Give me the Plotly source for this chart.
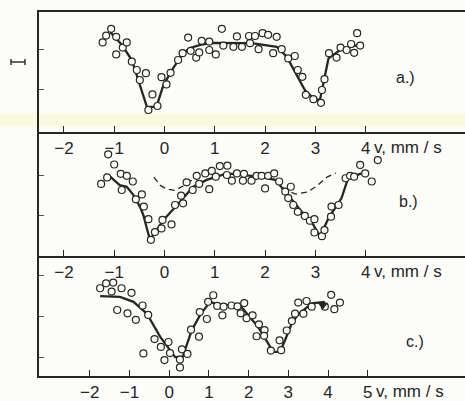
import plotly.graph_objects as go

# ---- spectrum a: velocity (mm/s) and relative intensity ----
a_v = [-1.23, -1.16, -1.06, -0.96, -0.96, -0.83, -0.75, -0.65, -0.55, -0.49, -0.37,
       -0.24, -0.32, -0.14, -0.06, 0.04, 0.12, 0.27, 0.36, 0.47, 0.52, 0.63, 0.69,
       0.74, 0.89, 0.89, 1.02, 1.14, 1.17, 1.37, 1.44, 1.54, 1.68, 1.70, 1.80, 1.87,
       1.95, 2.06, 2.16, 2.23, 2.33, 2.46, 2.59, 2.65, 2.74, 2.81, 2.96, 3.11, 3.13,
       3.18, 3.27, 3.42, 3.50, 3.62, 3.71, 3.77, 3.83, 3.89]
a_i = [2.19, 2.36, 2.53, 2.33, 1.89, 2.06, 2.19, 1.71, 1.50, 1.25, 1.42,
       0.89, 0.50, 0.60, 1.32, 1.14, 1.43, 1.75, 1.92, 2.31, 1.98, 1.81, 1.94,
       2.23, 2.21, 2.00, 1.89, 2.53, 2.11, 2.08, 2.34, 2.08, 2.35, 2.17, 2.35, 2.02,
       2.42, 2.38, 1.92, 2.33, 2.02, 1.79, 1.85, 1.50, 1.33, 0.88, 0.77, 0.68, 1.00,
       1.27, 1.92, 1.81, 2.06, 2.00, 2.15, 1.93, 2.42, 2.11]
a_fit_v = [-1.08, -0.85, -0.65, -0.35, -0.16, -0.02, 0.17, 0.37, 0.51, 0.71, 0.96,
           1.73, 2.23, 2.43, 2.79, 2.96, 3.09, 3.26, 3.49, 3.85]
a_fit_i = [2.45, 2.13, 1.75, 0.58, 0.58, 1.13, 1.54, 1.92, 2.05, 2.13, 2.18,
           2.17, 2.08, 1.83, 1.00, 0.79, 0.75, 1.79, 2.00, 2.13]

# ---- spectrum b ----
b_v = [-1.26, -1.14, -1.12, -1.00, -0.87, -0.85, -0.75, -0.63, -0.57, -0.45, -0.41,
       -0.32, -0.27, -0.19, -0.06, -0.04, 0.14, 0.21, 0.37, 0.33, 0.44, 0.56, 0.64,
       0.69, 0.81, 0.89, 0.94, 1.02, 1.10, 1.25, 1.24, 1.34, 1.44, 1.56, 1.58, 1.73,
       1.83, 1.93, 2.00, 2.06, 2.18, 2.28, 2.40, 2.51, 2.46, 2.56, 2.65, 2.79, 2.89,
       2.98, 2.98, 3.13, 3.18, 3.31, 3.32, 3.46, 3.60, 3.69, 3.77, 3.89, 3.99, 4.12,
       4.24]
b_i = [1.78, 1.94, 2.51, 2.26, 2.03, 1.63, 1.98, 1.84, 1.40, 1.52, 1.22,
       0.91, 0.40, 0.59, 0.68, 0.89, 0.78, 1.26, 1.30, 1.49, 1.82, 1.63, 1.98,
       1.78, 2.04, 1.65, 2.10, 1.96, 2.22, 2.23, 2.00, 1.86, 2.04, 1.86, 2.03, 1.86,
       1.98, 1.98, 1.67, 1.98, 2.04, 1.84, 1.59, 1.71, 1.43, 1.26, 1.09, 0.99, 0.87,
       0.91, 0.58, 0.49, 0.64, 0.97, 1.22, 1.26, 1.92, 1.98, 1.96, 2.25, 2.04, 1.84,
       2.37]
b_fit_v = [-1.08, -0.89, -0.75, -0.62, -0.49, -0.42, -0.29, -0.02, 0.31, 0.57, 0.84,
           1.24, 1.87, 2.20, 2.43, 2.73, 2.96, 3.09, 3.26, 3.52, 3.65, 3.92]
b_fit_i = [1.96, 1.75, 1.71, 1.51, 1.22, 1.01, 0.40, 0.89, 1.34, 1.71, 1.88,
           2.04, 1.96, 1.88, 1.55, 1.09, 0.77, 0.48, 0.93, 1.43, 1.92, 2.04]
# single-line fit, shown dashed where it departs from the doublet fit
b_single_v = [-0.21, -0.09, 0.05, 0.21, 0.37, 0.51, 0.71, None,
              2.20, 2.40, 2.61, 2.85, 3.05, 3.23, 3.41]
b_single_i = [1.95, 1.75, 1.65, 1.62, 1.73, 1.85, 1.98, None,
              1.85, 1.63, 1.53, 1.58, 1.75, 1.95, 2.05]

# ---- spectrum c ----
c_v = [-1.74, -1.59, -1.45, -1.41, -1.20, -1.31, -1.05, -0.95, -0.84, -0.67, -0.53,
       -0.65, -0.37, -0.21, -0.12, -0.02, 0.02, 0.27, 0.27, 0.32, 0.46, 0.55, 0.75,
       0.77, 0.95, 0.98, 1.11, 1.21, 1.34, 1.37, 1.57, 1.72, 1.80, 1.89, 1.95, 2.10,
       2.20, 2.26, 2.40, 2.39, 2.56, 2.78, 2.82, 2.96, 3.09, 3.17, 3.25, 3.38, 3.46,
       3.59, 3.92, 4.08, 4.16, 4.30]
c_i = [1.70, 1.82, 1.62, 1.84, 1.70, 1.17, 1.09, 1.59, 0.93, 1.28, 1.05,
       0.11, 0.46, 0.27, -0.05, 0.39, 0.12, -0.04, -0.23, 0.21, 0.10, 0.69, 0.52,
       1.12, 0.95, 1.37, 1.53, 1.27, 1.04, 1.25, 1.28, 1.26, 1.09, 1.34, 0.97, 1.04,
       0.53, 0.82, 0.68, 0.54, 0.18, 0.43, 0.19, 0.67, 0.90, 1.08, 1.35, 1.08, 1.39,
       1.25, 1.25, 1.54, 1.19, 1.35]
c_fit_v = [-1.74, -1.24, -0.90, -0.57, -0.23, 0.15, 0.34, 0.57, 0.78, 1.03, 1.28,
           1.78, 1.95, 2.24, 2.62, 2.79, 2.92, 3.09, 3.24, 3.59, 3.92]
c_fit_i = [1.51, 1.49, 1.37, 1.09, 0.52, 0.02, 0.03, 0.68, 1.05, 1.37, 1.29,
           1.29, 1.09, 0.76, 0.15, 0.15, 0.44, 0.85, 1.05, 1.33, 1.37]

ticks_ab = [-2, -1, 0, 1, 2, 3, 4]
ticks_c = [-2, -1, 0, 1, 2, 3, 4, 5]

INK = "#262626"
PAPER = "#fcfcf8"
FONT = "Liberation Sans"

fig = go.Figure()


def add_panel(n, v, i, fit_v, fit_i):
    xa, ya = ("x", "y") if n == 1 else (f"x{n}", f"y{n}")
    fig.add_trace(go.Scatter(x=fit_v, y=fit_i, mode="lines", xaxis=xa, yaxis=ya,
                             line=dict(color=INK, width=2.3), hoverinfo="skip"))
    fig.add_trace(go.Scatter(x=v, y=i, mode="markers", xaxis=xa, yaxis=ya,
                             marker=dict(symbol="circle", size=7, color=PAPER,
                                         line=dict(color=INK, width=1.2))))


add_panel(1, a_v, a_i, a_fit_v, a_fit_i)
fig.add_trace(go.Scatter(x=b_single_v, y=b_single_i, mode="lines", xaxis="x2", yaxis="y2",
                         line=dict(color=INK, width=1.3, dash="6px,4px"),
                         connectgaps=False, hoverinfo="skip"))
add_panel(2, b_v, b_i, b_fit_v, b_fit_i)
add_panel(3, c_v, c_i, c_fit_v, c_fit_i)
# arrow head at the end of the fitted curve in c
fig.add_trace(go.Scatter(x=[c_fit_v[-1] - 0.05], y=[c_fit_i[-1] - 0.08], mode="markers",
                         xaxis="x3", yaxis="y3",
                         marker=dict(symbol="triangle-down", size=9, color=INK)))

xdom = [39 / 465, 1.0]
doms = [[0.6708, 0.9701], [0.3616, 0.6708], [0.0623, 0.3616]]
xranges = [[-2.495, 5.974], [-2.495, 5.974], [-3.280, 7.451]]
yranges = [[-0.05, 2.95], [0.0, 3.062], [-0.44, 2.487]]
yticks = [[1, 2], [1, 2], [0, 1, 2]]
xticks = [ticks_ab, ticks_ab, ticks_c]

layout = dict(
    width=465, height=401, margin=dict(l=0, r=0, t=0, b=0),
    paper_bgcolor=PAPER, plot_bgcolor="rgba(0,0,0,0)", showlegend=False,
    font=dict(family=FONT, color=INK),
)
for k in range(3):
    sx = "" if k == 0 else str(k + 1)
    layout["xaxis" + sx] = dict(
        domain=xdom, range=xranges[k], anchor="y" + sx,
        showline=True, linecolor=INK, linewidth=1.5, mirror=(k == 0),
        ticks="inside", ticklen=6, tickwidth=1, tickcolor=INK,
        tickvals=xticks[k], ticktext=[str(t).replace("-", "\u2212") for t in xticks[k]],
        tickfont=dict(size=17, family=FONT, color=INK),
        showgrid=False, zeroline=False, fixedrange=True,
    )
    layout["yaxis" + sx] = dict(
        domain=doms[k], range=yranges[k], anchor="x" + sx,
        showline=True, linecolor=INK, linewidth=1.5,
        ticks="inside", ticklen=5, tickwidth=1, tickcolor="#555",
        tickvals=yticks[k], showticklabels=False,
        showgrid=False, zeroline=False, fixedrange=True,
    )
fig.update_layout(**layout)

# faint band across the sheet
fig.add_shape(type="rect", xref="paper", yref="paper", x0=0, x1=1,
              y0=1 - 127 / 401, y1=1 - 113 / 401, fillcolor="#fcf9e2",
              line=dict(width=0), layer="below")

# intensity scale bar, drawn as a short capped bar left of panel a
bar_y = 1 - 62 / 401
for x0, x1, dy in [(11, 25, 0), (11, 11, 3), (25, 25, 3)]:
    fig.add_shape(type="line", xref="paper", yref="paper",
                  x0=x0 / 465, x1=x1 / 465, y0=bar_y - dy / 401, y1=bar_y + dy / 401,
                  line=dict(color=INK, width=1.4))

# axis unit captions and panel letters
units = [("x", "y", 4), ("x2", "y2", 4), ("x3", "y3", 5)]
for xr, yr, last in units:
    fig.add_annotation(x=last, y=0, xref=xr, yref=yr + " domain", text="v, mm / s",
                       showarrow=False, xanchor="left", yanchor="top", xshift=6, yshift=-4,
                       font=dict(size=17, family=FONT, color=INK))
for xr, yr, lab, xv, yv in [("x", "y", "a.)", 4.8, 1.3), ("x2", "y2", "b.)", 4.85, 1.35),
                             ("x3", "y3", "c.)", 6.2, 0.4)]:
    fig.add_annotation(x=xv, y=yv, xref=xr, yref=yr, text=lab, showarrow=False,
                       font=dict(size=16, family=FONT, color=INK))

fig.write_html("out.html")
